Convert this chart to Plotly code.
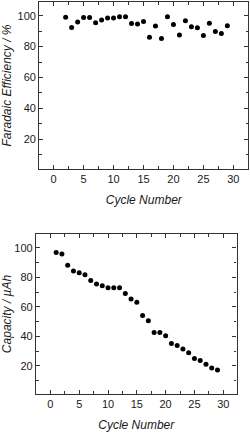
import plotly.graph_objects as go

fe_cycles = list(range(2, 30))
fe_values = [99.1, 92.4, 95.9, 98.9, 98.9, 95.4, 97.2, 98.5, 98.5, 99.3, 99.3, 95.0,
             94.6, 96.3, 86.1, 93.3, 85.2, 99.3, 94.4, 87.6, 96.7, 92.8, 92.2, 87.2,
             95.2, 89.8, 88.5, 93.5]

cap_cycles = list(range(1, 30))
cap_values = [96.8, 95.7, 88.1, 84.2, 83.1, 81.8, 77.9, 75.5, 74.3, 73.0, 73.0, 73.0,
              69.1, 65.3, 63.1, 54.1, 50.5, 42.7, 42.7, 40.5, 35.2, 33.9, 31.4, 28.9,
              25.0, 23.6, 21.1, 18.6, 17.3]

x_title = "Cycle Number"
fe_title = "Faradaic Efficiency / %"
cap_title = "Capacity / µAh"

FONT = "Liberation Sans, Arial, sans-serif"
TXT = "#1a1a1a"
AX = "#333333"

fig = go.Figure()
fig.add_trace(go.Scatter(x=fe_cycles, y=fe_values, mode="markers",
                         marker=dict(color="black", size=5), xaxis="x", yaxis="y",
                         showlegend=False))
fig.add_trace(go.Scatter(x=cap_cycles, y=cap_values, mode="markers",
                         marker=dict(color="black", size=5), xaxis="x2", yaxis="y2",
                         showlegend=False))

def xax(domain, anchor, rng):
    return dict(domain=domain, anchor=anchor, range=rng, showgrid=False, zeroline=False,
                showline=True, linecolor=AX, linewidth=1.3, mirror="ticks",
                ticks="inside", ticklen=4, tickwidth=1, tickcolor=AX,
                tick0=0, dtick=5,
                minor=dict(ticks="inside", ticklen=2.5, tick0=0, dtick=2.5,
                           tickcolor=AX, tickwidth=1, showgrid=False),
                tickfont=dict(family=FONT, size=11, color=TXT),
                title=dict(text="<i>" + x_title + "</i>", standoff=11,
                           font=dict(family=FONT, size=12, color=TXT)))

def yax(domain, anchor, rng, title):
    return dict(domain=domain, anchor=anchor, range=rng, showgrid=False, zeroline=False,
                showline=True, linecolor=AX, linewidth=1.3, mirror="ticks",
                ticks="inside", ticklen=4, tickwidth=1, tickcolor=AX,
                tick0=0, dtick=20,
                minor=dict(ticks="inside", ticklen=2.5, tick0=0, dtick=10,
                           tickcolor=AX, tickwidth=1, showgrid=False),
                tickfont=dict(family=FONT, size=11, color=TXT),
                title=dict(text="<i>" + title + "</i>", standoff=6,
                           font=dict(family=FONT, size=12, color=TXT)))

H = 432.0
W = 250.0
fig.update_layout(
    width=250, height=432,
    margin=dict(l=0, r=0, t=0, b=0),
    paper_bgcolor="white", plot_bgcolor="white",
    xaxis=xax([39.3 / W, 248.3 / W], "y", [-2.4, 32.5]),
    yaxis=yax([1 - 168.7 / H, 1 - 2.3 / H], "x", [1.0, 108.7], fe_title),
    xaxis2=xax([36.0 / W, 236.5 / W], "y2", [-2.5, 32.3]),
    yaxis2=yax([1 - 394.0 / H, 1 - 234.0 / H], "x2", [1.0, 109.3], cap_title),
)

fig.write_html("out.html")
